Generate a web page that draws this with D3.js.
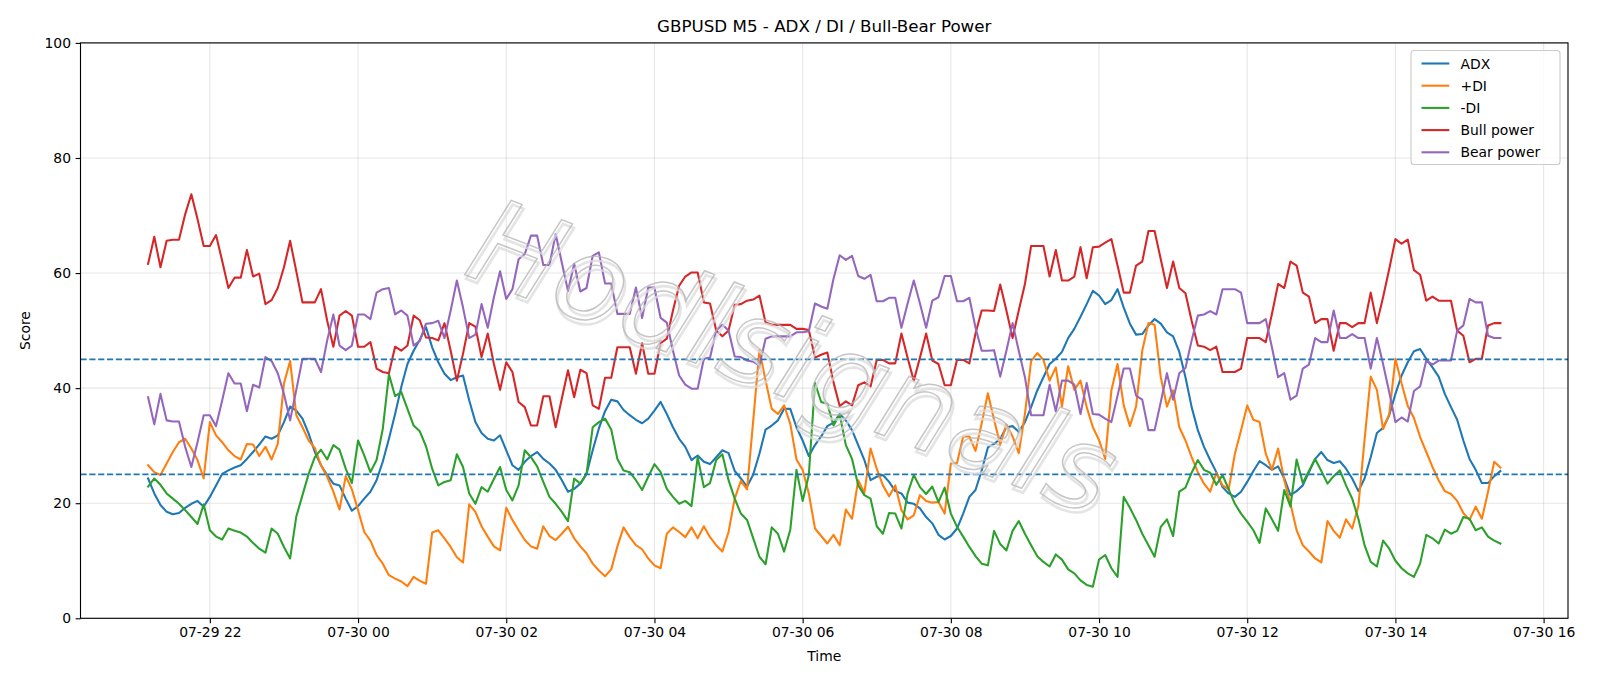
<!DOCTYPE html>
<html><head><meta charset="utf-8">
<script src="https://cdn.jsdelivr.net/npm/d3@7/dist/d3.min.js"></script>
<style>
body{margin:0;background:#fff}
svg{display:block}
text{font-family:"DejaVu Sans",sans-serif;fill:#000}
</style>
</head><body>
<svg id="chart" width="1600" height="686"></svg>
<script>
// ---------------- DATA ----------------
const title = "GBPUSD M5 - ADX / DI / Bull-Bear Power";
const startTime = "2025-07-29T21:10:00Z";
const stepMinutes = 5;

const adx = [24.3,21.7,19.7,18.5,18.1,18.3,19.2,19.9,20.4,19.4,21.1,23.1,25.1,25.7,26.2,26.6,27.7,28.9,30.2,31.6,
31.2,31.8,34.1,36.8,36.1,34.7,32.1,28.9,26.6,24.9,23.4,23.1,20.8,18.7,19.5,20.8,22.0,24.0,27.2,31.2,
35.5,40.2,44.2,46.5,48.4,50.6,47.1,44.5,42.5,41.4,41.9,42.2,37.9,34.1,32.2,31.2,30.9,31.8,29.2,26.6,
25.8,27.2,28.2,28.9,27.7,26.9,25.8,24.0,22.0,22.5,23.4,25.1,29.2,33.0,36.0,38.0,37.7,36.2,35.3,34.5,
33.9,34.7,36.1,37.6,35.5,33.2,31.2,29.8,27.5,28.3,27.2,26.8,28.0,29.2,28.7,25.6,24.3,22.9,25.0,28.6,
32.8,33.5,34.4,36.4,36.4,33.2,30.9,28.2,30.1,31.6,33.4,34.0,35.5,34.4,32.7,30.1,27.5,24.0,24.6,24.9,
23.7,22.1,21.7,20.1,19.9,19.1,17.6,16.5,14.5,13.7,14.3,15.6,18.2,21.1,22.3,25.7,29.7,30.3,31.2,33.2,
33.4,32.4,34.1,36.7,39.6,41.9,44.2,45.1,46.3,48.7,50.3,52.4,54.6,56.9,56.1,54.6,55.3,57.2,54.0,51.2,
49.3,49.4,50.9,52.0,51.2,49.7,49.0,46.3,41.9,36.7,32.7,29.8,27.5,25.4,22.8,21.7,21.1,22.0,23.7,25.6,
27.3,26.6,25.8,26.4,24.3,21.4,22.1,23.1,25.4,27.7,28.9,27.5,27.0,27.3,26.0,24.3,22.1,24.3,28.0,32.2,
33.1,35.3,39.0,42.2,44.5,46.4,46.8,45.1,43.6,42.0,39.0,36.7,34.5,30.9,27.7,25.8,23.5,23.5,24.7,25.6];

const plusDI = [26.6,25.4,24.9,26.9,28.9,30.6,31.2,29.5,27.5,24.3,34.1,31.8,30.6,29.2,28.2,27.6,30.3,30.2,28.2,29.8,
27.6,30.3,40.8,44.7,35.3,33.2,30.9,29.6,26.6,24.6,22.0,18.9,24.7,22.4,18.8,15.0,13.5,11.0,9.5,7.5,
6.9,6.4,5.6,7.2,6.5,6.0,14.9,15.3,13.9,12.4,10.6,9.7,19.8,18.5,16.0,14.2,12.5,11.8,19.2,17.1,
15.3,13.6,12.5,12.1,16.0,14.3,13.6,14.7,15.9,13.9,12.5,11.3,9.5,8.3,7.3,8.5,12.5,15.8,14.1,12.7,
12.0,10.4,9.2,8.7,14.7,15.8,15.0,14.1,15.8,13.9,16.0,14.1,12.7,11.6,15.0,20.8,23.9,22.4,34.4,46.6,
41.3,36.4,35.5,37.0,33.8,27.6,25.8,21.7,15.6,14.3,13.0,14.5,12.7,18.9,17.3,24.0,21.8,29.5,26.0,23.1,
21.2,23.1,18.8,17.2,17.9,21.4,20.4,20.1,20.2,18.2,26.9,27.0,31.6,31.6,29.1,33.9,39.1,34.5,30.2,33.7,
31.6,28.7,35.5,44.7,46.1,44.9,41.3,43.6,36.8,43.8,39.7,41.3,36.7,33.2,31.0,27.7,39.6,44.2,37.0,33.4,
36.8,46.5,51.3,51.0,41.9,36.8,39.6,33.2,30.9,28.0,25.4,23.4,22.0,25.3,23.1,22.4,28.6,32.7,37.0,34.5,
34.1,28.6,25.8,29.5,24.0,19.9,15.3,12.7,11.6,10.4,9.7,16.9,15.2,14.0,17.2,15.6,19.5,31.0,42.0,39.7,
32.9,35.5,45.1,40.8,36.9,34.8,31.5,28.9,26.3,24.0,22.1,21.6,20.4,18.3,17.1,19.4,17.3,22.0,27.2,26.2];

const minusDI = [22.9,24.3,23.2,21.7,20.8,19.9,18.8,17.6,16.4,19.8,15.3,14.2,13.7,15.6,15.2,14.9,14.2,13.1,12.1,11.4,
15.6,14.7,12.4,10.4,17.7,21.4,25.1,28.0,29.3,27.6,30.1,29.3,26.0,23.5,30.9,28.3,25.4,27.5,32.9,42.4,
38.6,39.3,36.4,33.5,32.5,29.9,26.0,23.1,23.7,24.0,28.5,26.3,21.7,19.9,22.8,22.0,24.2,26.3,22.3,20.5,
23.1,29.2,28.0,26.4,23.7,21.1,19.9,18.5,16.9,24.3,23.4,25.1,33.2,34.1,34.7,32.8,27.7,25.7,25.4,24.0,
22.3,24.6,26.8,25.4,22.5,21.1,19.9,20.4,19.5,28.0,22.8,23.5,27.5,28.5,24.0,20.8,18.2,17.1,13.9,10.7,
9.4,15.8,14.7,11.6,15.4,25.8,20.4,24.9,40.9,37.6,37.3,33.5,35.4,30.1,27.7,23.1,21.4,20.8,16.0,14.7,
18.3,18.2,15.6,21.7,24.9,22.8,21.6,22.9,20.2,22.7,18.2,15.9,14.2,12.4,10.8,9.5,9.2,15.2,12.9,11.8,
15.2,16.9,14.7,12.7,10.8,9.8,9.0,11.1,10.2,8.5,7.8,6.6,5.8,5.5,10.2,11.0,8.7,7.2,21.1,19.2,
17.1,14.7,12.7,10.7,15.9,17.2,14.3,22.0,22.7,25.3,27.5,25.8,25.3,23.2,24.9,22.4,19.9,18.2,16.8,15.3,
13.1,19.1,17.2,15.2,22.3,19.4,27.6,23.5,25.6,27.7,25.6,23.4,24.7,25.7,23.1,20.8,17.3,12.7,9.8,9.0,
13.5,12.1,10.0,8.7,7.8,7.2,9.5,14.5,13.9,13.0,15.4,14.7,15.2,17.6,17.3,15.3,15.8,14.2,13.5,13.0];

const bullPower = [61.6,66.3,61.0,65.6,65.8,65.8,70.2,73.7,69.4,64.7,64.7,66.6,62.1,57.4,59.2,59.2,64.0,59.4,59.9,54.6,
55.3,57.4,61.0,65.6,60.3,54.9,54.9,54.9,57.2,51.7,47.2,52.6,53.4,52.6,47.2,47.2,48.0,43.4,42.8,42.6,
47.2,46.5,47.4,52.6,51.8,48.8,48.7,48.3,51.3,46.5,41.3,46.0,51.3,50.7,45.4,49.5,44.2,39.7,44.5,42.8,
37.6,36.7,33.5,33.5,38.6,38.6,33.2,38.2,43.1,38.4,43.2,42.6,37.0,36.4,41.8,41.8,47.1,47.1,47.1,42.5,
47.8,42.5,42.5,47.8,48.6,53.5,57.8,59.4,60.1,60.1,54.9,54.7,50.0,49.0,50.0,54.5,54.6,55.2,55.4,56.1,
51.4,51.0,51.0,51.0,51.0,50.3,50.3,50.1,45.3,45.8,46.2,41.0,36.9,37.7,37.0,40.5,41.0,40.3,44.9,44.9,
44.3,44.3,49.5,45.3,41.3,45.3,49.5,44.8,44.2,40.5,40.5,44.9,44.9,44.3,49.5,53.5,53.5,53.4,58.0,53.5,
48.7,53.5,58.1,64.7,64.7,64.7,59.4,64.0,58.7,58.7,59.4,64.5,59.1,64.5,64.6,65.3,65.9,61.3,56.6,56.6,
61.3,62.0,67.3,67.3,62.4,57.4,62.0,57.4,56.5,51.7,47.4,47.2,46.6,47.2,42.8,42.8,42.8,43.4,48.7,48.7,
48.7,48.0,52.9,58.1,57.4,62.0,61.3,56.6,55.9,51.3,52.0,52.0,46.5,51.3,51.3,50.6,51.3,51.3,56.6,51.3,
55.8,60.7,65.9,65.1,65.8,60.5,59.7,55.2,55.9,55.2,55.2,55.2,50.0,49.1,44.5,45.1,45.1,50.9,51.3,51.3];

const bearPower = [38.4,33.7,39.0,34.4,34.2,34.2,29.8,26.3,30.6,35.3,35.3,33.4,37.9,42.6,40.8,40.8,36.0,40.6,40.1,45.4,
44.7,42.6,39.0,34.4,39.7,45.1,45.1,45.1,42.8,48.3,52.8,47.4,46.6,47.4,52.8,52.8,52.0,56.6,57.2,57.4,
52.8,53.5,52.6,47.4,48.2,51.2,51.3,51.7,48.7,53.5,58.7,54.0,48.7,49.3,54.6,50.5,55.8,60.3,55.5,57.2,
62.4,63.3,66.5,66.5,61.4,61.4,66.8,61.8,56.9,61.6,56.8,57.4,63.0,63.6,58.2,58.2,52.9,52.9,52.9,57.5,
52.2,57.5,57.5,52.2,51.4,46.5,42.2,40.6,39.9,39.9,45.1,45.3,50.0,51.0,50.0,45.5,45.4,44.8,44.6,43.9,
48.6,49.0,49.0,49.0,49.0,49.7,49.7,49.9,54.7,54.2,53.8,59.0,63.1,62.3,63.0,59.5,59.0,59.7,55.1,55.1,
55.7,55.7,50.5,54.7,58.7,54.7,50.5,55.2,55.8,59.5,59.5,55.1,55.1,55.7,50.5,46.5,46.5,46.6,42.0,46.5,
51.3,46.5,41.9,35.3,35.3,35.3,40.6,36.0,41.3,41.3,40.6,35.5,40.9,35.5,35.4,34.7,34.1,38.7,43.4,43.4,
38.7,38.0,32.7,32.7,37.6,42.6,38.0,42.6,43.5,48.3,52.6,52.8,53.4,52.8,57.2,57.2,57.2,56.6,51.3,51.3,
51.3,52.0,47.1,41.9,42.6,38.0,38.7,43.4,44.1,48.7,48.0,48.0,53.5,48.7,48.7,49.4,48.7,48.7,43.4,48.7,
44.2,39.3,34.1,34.9,34.2,39.5,40.3,44.8,44.1,44.8,44.8,44.8,50.0,50.9,55.5,54.9,54.9,49.1,48.7,48.7];

const seriesNames = ["ADX", "+DI", "-DI", "Bull power", "Bear power"];
const seriesColors = ["#1f77b4", "#ff7f0e", "#2ca02c", "#d62728", "#9467bd"];
const refLevels = [45, 25];
const yTicks = [0, 20, 40, 60, 80, 100];
const xTickTimes = ["2025-07-29T22:00:00Z","2025-07-30T00:00:00Z","2025-07-30T02:00:00Z","2025-07-30T04:00:00Z",
  "2025-07-30T06:00:00Z","2025-07-30T08:00:00Z","2025-07-30T10:00:00Z","2025-07-30T12:00:00Z",
  "2025-07-30T14:00:00Z","2025-07-30T16:00:00Z"];
const watermark = "Hodlsignals";

// ---------------- CHART ----------------
const svg = d3.select("#chart");
const W = 1600, H = 686;
const plot = {left: 80.5, right: 1568, top: 42.9, bottom: 618.3};
const PT = 100 / 72; // matplotlib points -> px

const t0 = new Date(startTime).getTime();
const times = adx.map((_, i) => new Date(t0 + i * stepMinutes * 60000));
const span = times[times.length - 1] - times[0];
const margin = span * 0.05;

const x = d3.scaleUtc()
  .domain([new Date(+times[0] - margin), new Date(+times[times.length - 1] + margin)])
  .range([plot.left, plot.right]);
const y = d3.scaleLinear().domain([0, 100]).range([plot.bottom, plot.top]);

svg.append("rect").attr("width", W).attr("height", H).attr("fill", "#fff");

// grid
const grid = svg.append("g").attr("stroke", "#b0b0b0").attr("stroke-opacity", 0.3).attr("stroke-width", 0.8 * PT);
xTickTimes.forEach(s => {
  const xx = x(new Date(s));
  grid.append("line").attr("x1", xx).attr("x2", xx).attr("y1", plot.top).attr("y2", plot.bottom);
});
yTicks.forEach(v => {
  grid.append("line").attr("x1", plot.left).attr("x2", plot.right).attr("y1", y(v)).attr("y2", y(v));
});

// clip
svg.append("clipPath").attr("id", "clip").append("rect")
  .attr("x", plot.left).attr("y", plot.top)
  .attr("width", plot.right - plot.left).attr("height", plot.bottom - plot.top);

const allSeries = [adx, plusDI, minusDI, bullPower, bearPower];
const line = d3.line().x((d, i) => x(times[i])).y(d => y(d));
const lines = svg.append("g").attr("clip-path", "url(#clip)");
allSeries.forEach((s, k) => {
  lines.append("path").datum(s).attr("d", line)
    .attr("fill", "none").attr("stroke", seriesColors[k]).attr("stroke-width", 1.5 * PT)
    .attr("stroke-linejoin", "round").attr("stroke-linecap", "square");
});

// reference levels
refLevels.forEach(v => {
  lines.append("line").attr("x1", plot.left).attr("x2", plot.right)
    .attr("y1", y(v)).attr("y2", y(v))
    .attr("stroke", "#1f77b4").attr("stroke-width", 1.2 * PT)
    .attr("stroke-dasharray", `${3.7 * 1.2 * PT},${1.6 * 1.2 * PT}`);
});

// watermark (thin gray outline with soft shadow)
const wmX = x(new Date("2025-07-30T05:50:00Z")), wmY = y(44);
const wm = svg.append("g").attr("transform", `translate(${wmX},${wmY}) rotate(21)`);
[[3, 3.5, "#dcdcdc", 2.6], [0, 0, "#b4b4b4", 1.5]].forEach(([dx, dy, c, sw]) => {
  wm.append("text").text(watermark)
    .attr("x", dx).attr("y", dy)
    .attr("text-anchor", "middle").attr("dominant-baseline", "middle")
    .style("font-size", "118px").style("font-style", "italic")
    .style("fill", "none").style("stroke", c).style("stroke-width", sw)
    .style("opacity", 0.75);
});

// axes frame
svg.append("rect").attr("x", plot.left).attr("y", plot.top)
  .attr("width", plot.right - plot.left).attr("height", plot.bottom - plot.top)
  .attr("fill", "none").attr("stroke", "#000").attr("stroke-width", 0.8 * PT);

// x axis
const xAxis = d3.axisBottom(x)
  .tickValues(xTickTimes.map(s => new Date(s)))
  .tickFormat(d3.utcFormat("%m-%d %H"))
  .tickSize(3.5 * PT).tickPadding(4.2);
const gx = svg.append("g").attr("transform", `translate(0,${plot.bottom})`).call(xAxis);
gx.select(".domain").remove();
gx.selectAll("line").attr("stroke", "#000").attr("stroke-width", 0.8 * PT);
gx.selectAll("text").style("font-size", "13.9px").style("font-family", "DejaVu Sans").attr("fill", "#000");

// y axis
const yAxis = d3.axisLeft(y).tickValues(yTicks).tickFormat(d3.format("d")).tickSize(3.5 * PT).tickPadding(4.6);
const gy = svg.append("g").attr("transform", `translate(${plot.left},0)`).call(yAxis);
gy.select(".domain").remove();
gy.selectAll("line").attr("stroke", "#000").attr("stroke-width", 0.8 * PT);
gy.selectAll("text").style("font-size", "13.9px").style("font-family", "DejaVu Sans").attr("fill", "#000");

// labels
const cx = (plot.left + plot.right) / 2;
svg.append("text").text(title).attr("x", cx).attr("y", 32)
  .attr("text-anchor", "middle").style("font-size", "16.7px");
svg.append("text").text("Time").attr("x", cx).attr("y", 661)
  .attr("text-anchor", "middle").style("font-size", "13.9px");
svg.append("text").text("Score")
  .attr("transform", `translate(30,${(plot.top + plot.bottom) / 2}) rotate(-90)`)
  .attr("text-anchor", "middle").style("font-size", "13.9px");

// legend
const lg = svg.append("g");
const lgBox = {x: 1411, y: 50.5, w: 149, h: 114};
lg.append("rect").attr("x", lgBox.x).attr("y", lgBox.y).attr("width", lgBox.w).attr("height", lgBox.h)
  .attr("rx", 3).attr("fill", "#fff").attr("fill-opacity", 0.8)
  .attr("stroke", "#cccccc").attr("stroke-width", 0.8 * PT);
seriesNames.forEach((n, k) => {
  const yy = 63.5 + k * 22.2;
  lg.append("line").attr("x1", 1421.5).attr("x2", 1449.3).attr("y1", yy).attr("y2", yy)
    .attr("stroke", seriesColors[k]).attr("stroke-width", 1.5 * PT);
  lg.append("text").text(n).attr("x", 1460.5).attr("y", yy).attr("dy", "0.36em")
    .style("font-size", "13.9px");
});
</script>
</body></html>
